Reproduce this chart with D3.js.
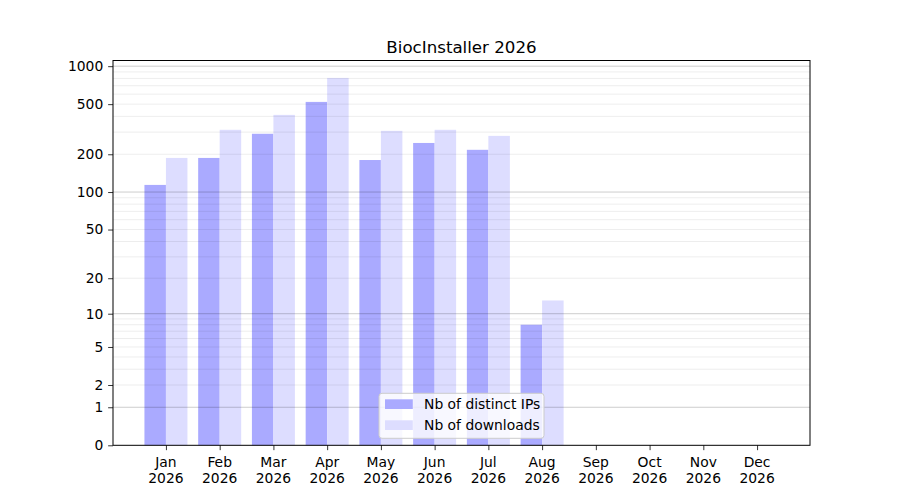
<!DOCTYPE html>
<html>
<head>
<meta charset="utf-8">
<script src="https://cdn.jsdelivr.net/npm/d3@7"></script>
<style>
  body { margin: 0; background: #fff; }
  text { font-family: "DejaVu Sans", sans-serif; }
</style>
</head>
<body>
<svg id="chart" width="900" height="500"></svg>
<script>
// data
const months = ["Jan", "Feb", "Mar", "Apr", "May", "Jun", "Jul", "Aug", "Sep", "Oct", "Nov", "Dec"];
const year = "2026";
const distinctIps = [114, 187, 291, 521, 180, 246, 217, 8];
const downloads = [187, 313, 411, 807, 307, 313, 280, 13];
const yTicks = [0, 1, 2, 5, 10, 20, 50, 100, 200, 500, 1000];
const majorGrid = [1, 10, 100, 1000];
const minorGrid = [2, 3, 4, 5, 6, 7, 8, 9, 20, 30, 40, 50, 60, 70, 80, 90, 200, 300, 400, 500, 600, 700, 800, 900];
const seriesNames = ["Nb of distinct IPs", "Nb of downloads"];
const seriesColors = ["#aaaaff", "#ddddff"];

const svg = d3.select("#chart");
const plotLeft = 113, plotRight = 810, plotTop = 60.5, plotBottom = 445.3;
const fontSize = "13.89px";

const x = d3.scaleLinear().domain([-0.985, 11.985]).range([plotLeft, plotRight]);
const y = d3.scaleSymlog().constant(1).domain([0, 1109]).range([plotBottom, plotTop]);
const barW = x(0.4) - x(0);

// bars (IPs to the left of the tick, downloads to the right)
const bars = svg.append("g").attr("class", "bars");
bars.selectAll("rect.ip")
  .data(distinctIps)
  .join("rect")
  .attr("class", "ip")
  .attr("x", (d, i) => x(i - 0.4))
  .attr("width", barW)
  .attr("y", d => y(d))
  .attr("height", d => y(0) - y(d))
  .attr("fill", seriesColors[0]);
bars.selectAll("rect.dl")
  .data(downloads)
  .join("rect")
  .attr("class", "dl")
  .attr("x", (d, i) => x(i))
  .attr("width", barW)
  .attr("y", d => y(d))
  .attr("height", d => y(0) - y(d))
  .attr("fill", seriesColors[1]);

// grid on top of bars, semi transparent
const grid = svg.append("g").attr("class", "grid");
grid.selectAll("line.minor")
  .data(minorGrid)
  .join("line")
  .attr("class", "minor")
  .attr("x1", plotLeft).attr("x2", plotRight)
  .attr("y1", d => y(d)).attr("y2", d => y(d))
  .attr("stroke", "#000")
  .attr("stroke-opacity", 0.07)
  .attr("stroke-width", 1);
grid.selectAll("line.major")
  .data(majorGrid)
  .join("line")
  .attr("class", "major")
  .attr("x1", plotLeft).attr("x2", plotRight)
  .attr("y1", d => y(d)).attr("y2", d => y(d))
  .attr("stroke", "#000")
  .attr("stroke-opacity", 0.2)
  .attr("stroke-width", 1);

// axes
const yAxis = d3.axisLeft(y).tickValues(yTicks).tickSize(4.86).tickPadding(4.86).tickFormat(d3.format("d"));
const xAxis = d3.axisBottom(x).tickValues(d3.range(months.length)).tickSize(4.86).tickFormat(() => "");

const gy = svg.append("g").attr("transform", `translate(${plotLeft},0)`).call(yAxis);
const gx = svg.append("g").attr("transform", `translate(0,${plotBottom})`).call(xAxis);
[gx, gy].forEach(g => {
  g.select(".domain").remove();
  g.selectAll(".tick line").attr("stroke", "#000").attr("stroke-width", 0.8);
  g.selectAll("text").attr("fill", "#000").style("font-size", fontSize);
});

// two-line month labels
const lbl = svg.append("g").attr("class", "xlabels")
  .selectAll("text")
  .data(months)
  .join("text")
  .attr("text-anchor", "middle")
  .attr("fill", "#000")
  .style("font-size", fontSize);
lbl.append("tspan").attr("x", (d, i) => x(i)).attr("y", plotBottom + 22).text(d => d);
lbl.append("tspan").attr("x", (d, i) => x(i)).attr("y", plotBottom + 38).text(year);

// frame
svg.append("rect")
  .attr("x", plotLeft).attr("y", plotTop)
  .attr("width", plotRight - plotLeft).attr("height", plotBottom - plotTop)
  .attr("fill", "none").attr("stroke", "#000").attr("stroke-width", 1);

// title
svg.append("text")
  .attr("x", (plotLeft + plotRight) / 2).attr("y", plotTop - 8)
  .attr("text-anchor", "middle")
  .style("font-size", "16.67px")
  .attr("fill", "#000")
  .text("BiocInstaller 2026");

// legend, lower center
const legW = 165, legH = 45;
const legX = (plotLeft + plotRight) / 2 - legW / 2, legY = plotBottom - 7 - legH;
const leg = svg.append("g").attr("transform", `translate(${legX},${legY})`);
leg.append("rect")
  .attr("width", legW).attr("height", legH)
  .attr("rx", 3)
  .attr("fill", "#fff").attr("fill-opacity", 0.8)
  .attr("stroke", "#ccc").attr("stroke-width", 1);
seriesNames.forEach((name, i) => {
  const row = leg.append("g").attr("transform", `translate(0,${11 + i * 21})`);
  row.append("rect")
    .attr("x", 6).attr("y", -5)
    .attr("width", 27.8).attr("height", 9.7)
    .attr("fill", seriesColors[i]);
  row.append("text")
    .attr("x", 45).attr("y", 5)
    .style("font-size", fontSize)
    .attr("fill", "#000")
    .text(name);
});
</script>
</body>
</html>
